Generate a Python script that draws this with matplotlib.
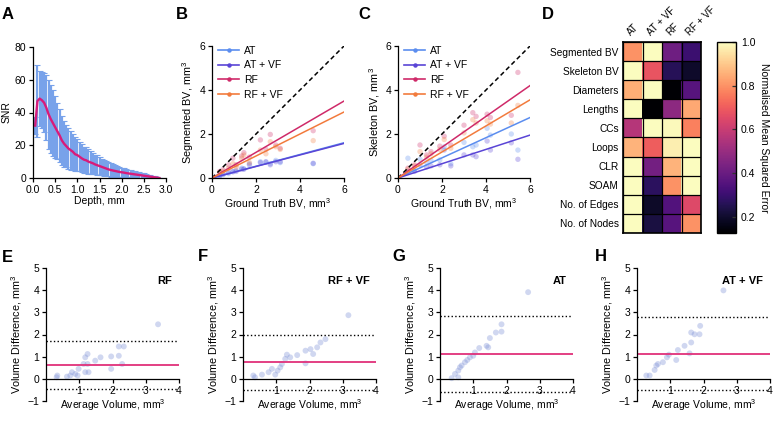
import numpy as np
import matplotlib.pyplot as plt
from matplotlib.lines import Line2D

plt.rcParams['font.family'] = ['Liberation Sans', 'DejaVu Sans']
plt.rcParams['font.size'] = 7
plt.rcParams['axes.linewidth'] = 0.9
plt.rcParams['xtick.major.width'] = 0.9
plt.rcParams['ytick.major.width'] = 0.9
plt.rcParams['xtick.major.size'] = 3
plt.rcParams['ytick.major.size'] = 3
plt.rcParams['mathtext.default'] = 'regular'

# ---- data ----
# A: SNR vs depth
depth = [0.05, 0.10, 0.15, 0.20, 0.25, 0.30, 0.35, 0.40, 0.45, 0.50, 0.55, 0.60, 0.65, 0.70,
         0.75, 0.80, 0.85, 0.90, 0.95, 1.00, 1.05, 1.10, 1.15, 1.20, 1.25, 1.30, 1.35, 1.40,
         1.45, 1.50, 1.55, 1.60, 1.65, 1.70, 1.75, 1.80, 1.85, 1.90, 1.95, 2.00, 2.05, 2.10,
         2.15, 2.20, 2.25, 2.30, 2.35, 2.40, 2.45, 2.50, 2.55, 2.60, 2.65, 2.70, 2.75, 2.80, 2.85]
snr_mean = [32, 47, 48.5, 47.5, 46, 43, 39, 36, 33.5, 31, 28.5, 26, 23, 21,
            19.5, 18, 17, 16, 14.5, 14, 13, 12, 11.2, 10.8, 10, 9.5, 9, 8.3,
            7.8, 7.3, 6.8, 6.3, 5.8, 5.3, 4.9, 4.6, 4.3, 4.0, 3.7, 3.5, 3.3, 3.0,
            2.8, 2.6, 2.4, 2.2, 2.0, 1.8, 1.6, 1.4, 1.2, 1.0, 0.8, 0.6, 0.4, 0.2, 0.0]
snr_sd = [5, 22, 17, 17, 18, 20, 21, 21, 20, 19, 17, 16, 15, 14,
          13, 12.5, 12, 11, 10.5, 10, 9, 8.5, 8, 8, 7.5, 7, 6.5, 6,
          6, 5.5, 5, 4.8, 4.5, 4.2, 4, 3.8, 3.5, 3.2, 3, 2.8, 2.6, 2.5,
          2.3, 2.2, 2, 1.9, 1.8, 1.7, 1.5, 1.4, 1.2, 1.1, 0.9, 0.8, 0.6, 0.4, 0.3]

methods = ['AT', 'AT + VF', 'RF', 'RF + VF']
colors = ['#5b8def', '#5a45d6', '#cf2a69', '#f27b3d']

# B: segmented BV vs ground truth
gt_b = [0.35, 0.5, 0.75, 0.95, 1.1, 1.35, 1.45, 1.7, 2.2, 2.45, 2.65, 2.9, 3.1, 4.6]
seg_at = [0.10, 0.15, 0.20, 0.30, 0.35, 0.45, 0.42, 0.65, 0.74, 0.72, 0.65, 0.80, 0.70, 0.65]
seg_at_vf = [0.10, 0.18, 0.25, 0.28, 0.30, 0.40, 0.40, 0.60, 0.70, 0.74, 0.60, 0.74, 0.74, 0.67]
seg_rf = [0.30, 0.38, 0.60, 0.90, 0.60, 1.00, 1.15, 0.95, 1.73, 1.30, 1.98, 1.50, 1.35, 2.15]
seg_rf_vf = [0.25, 0.30, 0.45, 0.65, 0.50, 0.90, 1.05, 0.70, 1.27, 1.10, 1.65, 1.42, 1.30, 1.70]
slopes_b = [0.267, 0.262, 0.583, 0.50]

# C: skeleton BV vs ground truth
gt_c = [0.45, 0.75, 1.0, 1.3, 1.5, 1.9, 2.1, 2.4, 3.0, 3.4, 3.55, 4.05, 4.2, 5.15, 5.45]
skel_at = [0.90, 0.35, 0.85, 0.70, 0.80, 0.82, 1.42, 0.65, 1.62, 1.42, 1.50, 2.26, 1.95, 2.00, 1.27]
skel_at_vf = [0.30, 0.30, 0.60, 0.50, 0.55, 0.60, 1.27, 0.55, 1.05, 1.05, 0.97, 1.68, 1.27, 1.60, 0.85]
skel_rf = [0.45, 0.60, 1.50, 1.05, 1.20, 1.45, 1.90, 1.50, 2.40, 2.97, 2.80, 2.90, 2.75, 2.85, 4.80]
skel_rf_vf = [0.40, 0.55, 1.20, 0.95, 1.10, 1.30, 1.75, 1.35, 2.05, 2.65, 2.50, 2.60, 2.45, 2.50, 3.30]
slopes_c = [0.458, 0.325, 0.70, 0.592]

# D: normalised MSE heatmap
hm_rows = ['Segmented BV', 'Skeleton BV', 'Diameters', 'Lengths', 'CCs', 'Loops',
           'CLR', 'SOAM', 'No. of Edges', 'No. of Nodes']
mse_at = [0.80, 1.0, 0.85, 1.0, 0.56, 0.86, 1.0, 1.0, 1.0, 1.0]
mse_at_vf = [1.0, 0.68, 1.0, 0.125, 1.0, 0.70, 0.42, 0.27, 0.19, 0.23]
mse_rf = [0.41, 0.26, 0.13, 0.475, 0.99, 0.97, 0.86, 0.80, 0.35, 0.36]
mse_rf_vf = [0.30, 0.195, 0.36, 0.84, 0.77, 1.0, 1.0, 1.0, 0.65, 0.80]

# E-H: Bland-Altman
ba_titles = ['RF', 'RF + VF', 'AT', 'AT + VF']
avg_rf = [3.37, 2.34, 2.19, 2.19, 1.96, 1.96, 2.29, 1.64, 1.48, 1.25, 1.18, 1.13, 1.25, 1.28,
          1.18, 0.98, 0.88, 0.78, 0.73, 0.63, 0.34, 0.32, 0.95]
diff_rf = [2.46, 1.46, 1.46, 1.04, 1.01, 0.45, 0.67, 0.97, 0.82, 1.12, 0.97, 0.67, 0.67, 0.30,
           0.30, 0.45, 0.22, 0.30, 0.15, 0.10, 0.15, 0.07, 0.15]
avg_rf_vf = [3.17, 2.48, 2.33, 2.23, 2.11, 2.03, 1.88, 1.63, 1.32, 1.42, 1.27, 1.17, 1.12, 1.04,
             0.87, 0.97, 0.77, 0.57, 0.31, 0.36, 1.88]
diff_rf_vf = [2.87, 1.79, 1.64, 1.42, 1.12, 1.34, 1.27, 1.07, 1.09, 0.97, 0.90, 0.67, 0.52, 0.37,
              0.45, 0.19, 0.30, 0.19, 0.15, 0.07, 0.70]
avg_at = [2.65, 1.85, 1.85, 1.68, 1.50, 1.40, 1.45, 1.18, 1.05, 1.00, 0.90, 0.82, 0.75, 0.65,
          0.60, 0.55, 0.45, 0.35, 0.55]
diff_at = [3.91, 2.46, 2.13, 2.09, 1.84, 1.49, 1.42, 1.39, 1.19, 1.04, 0.97, 0.85, 0.75, 0.60,
           0.52, 0.37, 0.22, 0.03, 0.07]
avg_at_vf = [2.60, 1.90, 1.88, 1.73, 1.63, 1.63, 1.58, 1.43, 1.23, 1.18, 0.96, 0.90, 0.78, 0.63,
             0.58, 0.53, 0.38, 0.28]
diff_at_vf = [3.99, 2.39, 2.01, 2.01, 2.09, 1.64, 1.15, 1.49, 1.30, 0.85, 1.09, 0.97, 0.75, 0.67,
              0.60, 0.40, 0.15, 0.15]
ba_bias = [0.62, 0.75, 1.12, 1.12]
ba_upper = [1.70, 2.00, 2.83, 2.77]
ba_lower = [-0.47, -0.50, -0.60, -0.52]

W, H = 776, 422
fig = plt.figure(figsize=(W / 100, H / 100), dpi=100)


def px_axes(left, right, top, bottom):
    return fig.add_axes([left / W, 1 - bottom / H, (right - left) / W, (bottom - top) / H])


def style(ax):
    ax.spines['top'].set_visible(False)
    ax.spines['right'].set_visible(False)
    ax.tick_params(labelsize=7.5, pad=2)


# ---- A ----
ax = px_axes(33, 166, 47, 178)
style(ax)
ax.errorbar(depth, snr_mean, yerr=snr_sd, fmt='none', ecolor='#78a2ea',
            elinewidth=1.6, capsize=2.5, capthick=0.8)
ax.plot(depth, snr_mean, color='#d81b7a', lw=1.7)
ax.set_xlim(0, 3.0)
ax.set_ylim(0, 80)
ax.set_xticks(np.arange(0, 3.01, 0.5))
ax.set_yticks([0, 20, 40, 60, 80])
ax.set_xlabel('Depth, mm', fontsize=7.5, labelpad=1)
ax.set_ylabel('SNR', fontsize=7.5, labelpad=2)

# ---- B and C ----
handles = [Line2D([0], [0], color=c, lw=1.2, marker='o', ms=2.2) for c in colors]
for left, right, gt, ys, slopes, ylab in [
        (212, 344, gt_b, [seg_at, seg_at_vf, seg_rf, seg_rf_vf], slopes_b, 'Segmented BV, mm$^3$'),
        (398, 530, gt_c, [skel_at, skel_at_vf, skel_rf, skel_rf_vf], slopes_c, 'Skeleton BV, mm$^3$')]:
    ax = px_axes(left, right, 46, 178)
    style(ax)
    ax.plot([0, 6], [0, 6], color='black', ls=(0, (3, 2)), lw=1.1)
    for y, s, c in zip(ys, slopes, colors):
        ax.scatter(gt, y, s=15, color=c, alpha=0.3, edgecolors='none')
        ax.plot([0, 6], [0, 6 * s], color=c, lw=1.1)
    ax.set_xlim(0, 6)
    ax.set_ylim(0, 6)
    ax.set_xticks([0, 2, 4, 6])
    ax.set_yticks([0, 2, 4, 6])
    ax.set_xlabel('Ground Truth BV, mm$^3$', fontsize=7.5, labelpad=1)
    ax.set_ylabel(ylab, fontsize=7.8, labelpad=2)
    ax.legend(handles, methods, loc='upper left', bbox_to_anchor=(0.0, 1.05), frameon=False,
              fontsize=7.5, handlelength=2.0, handletextpad=0.5, labelspacing=0.45,
              borderaxespad=0.2)

# ---- D ----
ax = px_axes(623, 701, 42, 233)
data = np.column_stack([mse_at, mse_at_vf, mse_rf, mse_rf_vf])
im = ax.imshow(data, cmap='magma', vmin=0.125, vmax=1.0, aspect='auto')
ax.set_xticks(range(4))
ax.set_xticklabels(methods, rotation=45, ha='left', rotation_mode='anchor', fontsize=7)
ax.xaxis.tick_top()
ax.set_yticks(range(len(hm_rows)))
ax.set_yticklabels(hm_rows, fontsize=7.3)
ax.tick_params(length=0, pad=3)
ax.set_xticks(np.arange(-0.5, 4), minor=True)
ax.set_yticks(np.arange(-0.5, len(hm_rows)), minor=True)
ax.grid(which='minor', color='black', lw=0.9)
ax.tick_params(which='minor', length=0)
for sp in ax.spines.values():
    sp.set_linewidth(1.2)

cax = px_axes(717, 736, 42, 233)
cb = fig.colorbar(im, cax=cax, ticks=[0.2, 0.4, 0.6, 0.8, 1.0])
cb.ax.tick_params(labelsize=7.5, length=3, direction='in', color='#333333')
cb.outline.set_linewidth(1.0)
cb.set_label('Normalised Mean Squared Error', rotation=270, fontsize=7.5, labelpad=10)

# ---- E-H ----
ba_avg = [avg_rf, avg_rf_vf, avg_at, avg_at_vf]
ba_diff = [diff_rf, diff_rf_vf, diff_at, diff_at_vf]
ba_left = [46, 243, 440, 637]
for i in range(4):
    ax = px_axes(ba_left[i], ba_left[i] + 133, 268, 401)
    style(ax)
    ax.spines['bottom'].set_position(('data', 0))
    ax.scatter(ba_avg[i], ba_diff[i], s=18, color='#7b8fd6', alpha=0.35, edgecolors='none')
    ax.axhline(ba_bias[i], color='#e0307a', lw=1.3)
    ax.axhline(ba_upper[i], color='black', ls=':', lw=1.0)
    ax.axhline(ba_lower[i], color='black', ls=':', lw=1.0)
    ax.set_xlim(0, 4)
    ax.set_ylim(-1, 5)
    ax.set_xticks([1, 2, 3, 4])
    ax.set_yticks([-1, 0, 1, 2, 3, 4, 5])
    ax.set_xlabel('Average Volume, mm$^3$', fontsize=7.5)
    ax.xaxis.set_label_coords(0.5, 0.03)
    ax.set_ylabel('Volume Difference, mm$^3$', fontsize=7.8, labelpad=2)
    ax.text(3.8, 4.4, ba_titles[i], ha='right', va='center', fontsize=8, fontweight='bold')

# panel letters
for letter, x, y in [('A', 2, 7), ('B', 176, 7), ('C', 358, 7), ('D', 542, 7),
                     ('E', 2, 250), ('F', 198, 249), ('G', 392, 249), ('H', 595, 249)]:
    fig.text(x / W, 1 - y / H, letter, ha='left', va='top', fontsize=12, fontweight='bold')

fig.savefig('out.png', dpi=100)
